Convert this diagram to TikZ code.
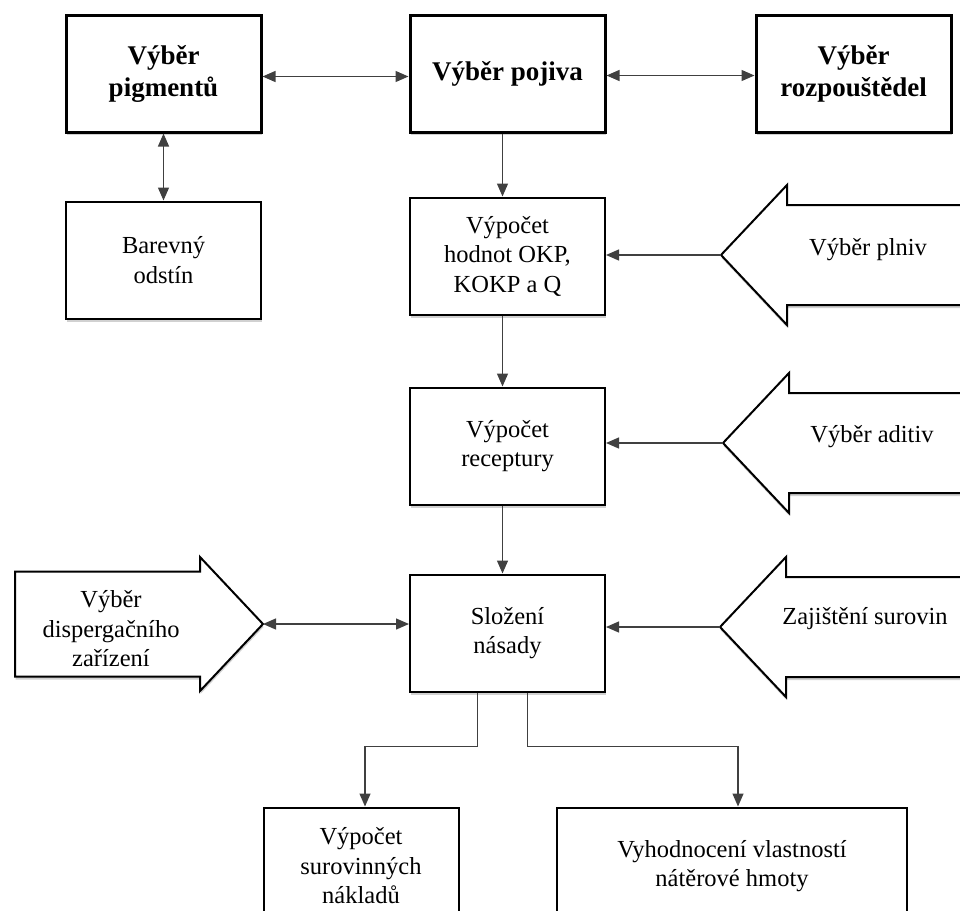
\documentclass[tikz,border=0pt]{standalone}
\usepackage{fontspec}
\setmainfont{Liberation Serif}
\usetikzlibrary{positioning, arrows.meta, shadows}

\tikzset{
  soft/.style={drop shadow={shadow xshift=0.5pt, shadow yshift=-3pt, fill=black!40, opacity=.45}},
  box/.style={draw, line width=2pt, fill=white, soft, minimum width=195pt, minimum height=117pt,
    align=center, inner sep=2pt, font=\fontsize{24.5}{29.5}\selectfont},
  topbox/.style={box, line width=3pt, font=\fontsize{27}{32}\selectfont\bfseries},
  intext/.style={align=center, inner sep=0pt, font=\fontsize{24.5}{29.5}\selectfont},
  bigarrow/.style={draw, line width=2pt, fill=white, soft, line join=miter},
  conn/.style={draw=black!75, line width=1.3pt, -{Triangle[length=13pt,width=11pt]}},
  both/.style={conn, {Triangle[length=13pt,width=11pt]}-{Triangle[length=13pt,width=11pt]}}
}

% arrow pointing left, tip at #1
\newcommand{\leftshape}[1]{%
  \draw[bigarrow] (#1) -- ++(66,70) -- ++(0,-20) -- ++(220,0) -- ++(0,-100)
    -- ++(-220,0) -- ++(0,-20) -- cycle;}

\begin{document}
\begin{tikzpicture}[x=1pt, y=-1pt]
  \useasboundingbox (0,0) rectangle (960,910);

  % selection row
  \node[topbox] (pojiva) at (507.5,73.5) {Výběr pojiva};
  \node[topbox] (pigmenty) [left=146pt of pojiva] {Výběr\\pigmentů};
  \node[topbox] (rozpoustedla) [right=148pt of pojiva] {Výběr\\rozpouštědel};
  \node[box] (odstin) [below=67pt of pigmenty] {Barevný\\odstín};

  % main column
  \node[box] (okp) [below=63pt of pojiva] {Výpočet\\hodnot OKP,\\KOKP a Q};
  \node[box] (receptura) [below=71pt of okp] {Výpočet\\receptury};
  \node[box] (nasada) [below=68pt of receptura] {Složení\\násady};
  \node[box] (naklady) [below=114pt of nasada, xshift=-146.5pt] {Výpočet\\surovinných\\nákladů};
  \node[box, minimum width=350pt] (vyhodnoceni) [below=114pt of nasada, xshift=224.5pt]
    {Vyhodnocení vlastností\\nátěrové hmoty};

  % inputs
  \coordinate (plniv) at (721,255);
  \coordinate (aditiv) at (723,443);
  \coordinate (suroviny) at (720,627);
  \coordinate (dispergace) at (263,624);
  \leftshape{plniv}
  \leftshape{aditiv}
  \leftshape{suroviny}
  \draw[bigarrow] (dispergace) -- ++(-63,67) -- ++(0,-14.5) -- ++(-185,0) -- ++(0,-105)
    -- ++(185,0) -- ++(0,-14.5) -- cycle;
  \node[intext] (plnivtext) at ([xshift=147pt, yshift=5pt]plniv) {Výběr plniv};
  \node[intext] (aditivtext) at ([xshift=149pt, yshift=6pt]aditiv) {Výběr aditiv};
  \node[intext] (surovinytext) at ([xshift=145pt, yshift=8pt]suroviny) {Zajištění surovin};
  \node[intext] (dispergacetext) at ([xshift=-152pt, yshift=-5pt]dispergace) {Výběr\\dispergačního\\zařízení};

  % connectors
  \draw[both] ([yshift=-3pt]pigmenty.east) -- ([yshift=-3pt]pojiva.west);
  \draw[both] ([yshift=-2pt]pojiva.east) -- ([yshift=-2pt]rozpoustedla.west);
  \draw[both] (pigmenty) -- (odstin);
  \draw[conn] ([xshift=-5pt]pojiva.south) -- ([xshift=-5pt]okp.north);
  \draw[conn] ([xshift=-5pt]okp.south) -- ([xshift=-5pt]receptura.north);
  \draw[conn] ([xshift=-5pt]receptura.south) -- ([xshift=-5pt]nasada.north);
  \draw[conn] (plniv) -- (plniv -| okp.east);
  \draw[conn] (aditiv) -- (aditiv -| receptura.east);
  \draw[conn] (suroviny) -- (suroviny -| nasada.east);
  \draw[both] (dispergace) -- (dispergace -| nasada.west);
  \draw[conn] ([xshift=-30pt]nasada.south) |- ([xshift=4pt, yshift=60pt]naklady.north)
    -- ([xshift=4pt]naklady.north);
  \draw[conn] ([xshift=20pt]nasada.south) |- ([xshift=6pt, yshift=60pt]vyhodnoceni.north)
    -- ([xshift=6pt]vyhodnoceni.north);
\end{tikzpicture}
\end{document}
